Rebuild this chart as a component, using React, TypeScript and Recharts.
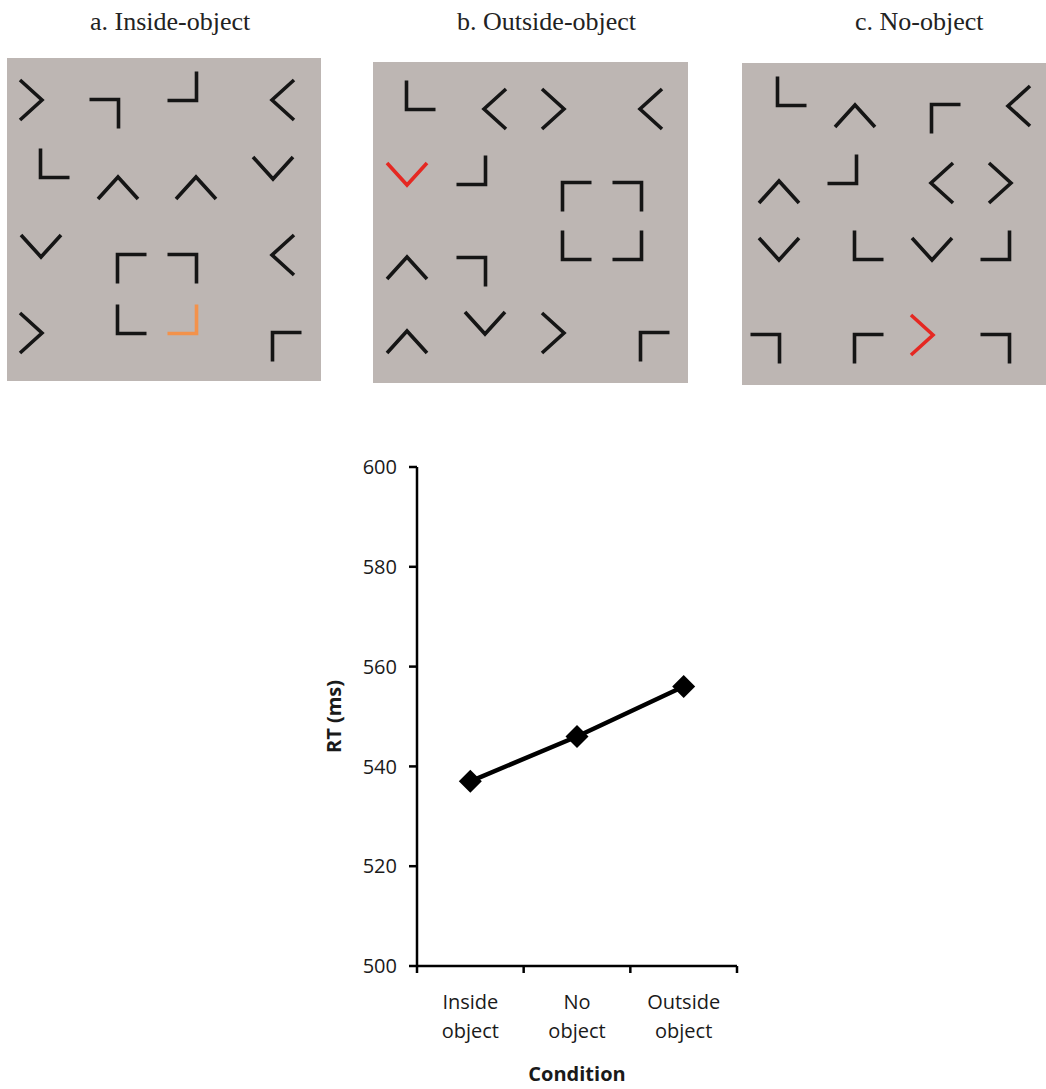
import React from 'react';
import { ScatterChart, Scatter, XAxis, YAxis, LineChart, Line, Label } from 'recharts';

type Glyph = { x: number; y: number; g: string; hl?: string };

// Stimulus panels: glyph centre (panel-local units), glyph type, highlighted target
const panelAGlyphs: Glyph[] = [
  { x: 24, y: 42, g: 'gt' }, { x: 97, y: 56, g: 'TR' }, { x: 175, y: 28, g: 'BR' }, { x: 276, y: 42, g: 'lt' },
  { x: 48, y: 105, g: 'BL' }, { x: 111, y: 130, g: 'up' }, { x: 189, y: 130, g: 'up' }, { x: 266, y: 110, g: 'dn' },
  { x: 34, y: 188, g: 'dn' }, { x: 125, y: 211, g: 'TL' }, { x: 175, y: 211, g: 'TR' }, { x: 276, y: 197, g: 'lt' },
  { x: 24, y: 275, g: 'gt' }, { x: 125, y: 261, g: 'BL' }, { x: 175, y: 261, g: 'BR', hl: 'orange' }, { x: 280, y: 289, g: 'TL' },
];
const panelBGlyphs: Glyph[] = [
  { x: 48, y: 33, g: 'BL' }, { x: 122, y: 47, g: 'lt' }, { x: 180, y: 47, g: 'gt' }, { x: 278, y: 47, g: 'lt' },
  { x: 34, y: 112, g: 'dn', hl: 'red' }, { x: 98, y: 108, g: 'BR' }, { x: 204, y: 135, g: 'TL' }, { x: 254, y: 135, g: 'TR' },
  { x: 204, y: 183, g: 'BL' }, { x: 254, y: 183, g: 'BR' }, { x: 34, y: 206, g: 'up' }, { x: 98, y: 210, g: 'TR' },
  { x: 34, y: 280, g: 'up' }, { x: 112, y: 261, g: 'dn' }, { x: 180, y: 271, g: 'gt' }, { x: 282, y: 285, g: 'TL' },
];
const panelCGlyphs: Glyph[] = [
  { x: 50, y: 28, g: 'BL' }, { x: 113, y: 53, g: 'up' }, { x: 204, y: 56, g: 'TL' }, { x: 277, y: 43, g: 'lt' },
  { x: 37, y: 129, g: 'up' }, { x: 100, y: 106, g: 'BR' }, { x: 200, y: 120, g: 'lt' }, { x: 258, y: 120, g: 'gt' },
  { x: 37, y: 186, g: 'dn' }, { x: 127, y: 182, g: 'BL' }, { x: 190, y: 186, g: 'dn' }, { x: 253, y: 182, g: 'BR' },
  { x: 23, y: 286, g: 'TR' }, { x: 127, y: 286, g: 'TL' }, { x: 180, y: 272, g: 'gt', hl: 'red' }, { x: 253, y: 286, g: 'TR' },
];
const panelTitles = ['a. Inside-object', 'b. Outside-object', 'c. No-object'];

// Line chart data
const conditions = ['Inside object', 'No object', 'Outside object'];
const rtValues = [537, 546, 556];
const yTicks = [500, 520, 540, 560, 580, 600];
const yDomain = [500, 600];
const xAxisTitle = 'Condition';
const yAxisTitle = 'RT (ms)';

const lineData = conditions.map((c, i) => ({ cond: c, rt: rtValues[i] }));

const GREY = '#bdb6b3';
const INK = '#151515';
const HL: Record<string, string> = { orange: '#f3924b', red: '#e52822' };

const GlyphShape = (props: any) => {
  const { cx, cy, payload } = props;
  if (cx == null || cy == null) return null;
  const h = 14.5, a = 20, d = 11;
  let pts: number[][] = [];
  switch (payload.g) {
    case 'gt': pts = [[cx - d, cy - a], [cx + d, cy], [cx - d, cy + a]]; break;
    case 'lt': pts = [[cx + d, cy - a], [cx - d, cy], [cx + d, cy + a]]; break;
    case 'up': pts = [[cx - a, cy + d], [cx, cy - d], [cx + a, cy + d]]; break;
    case 'dn': pts = [[cx - a, cy - d], [cx, cy + d], [cx + a, cy - d]]; break;
    case 'BL': pts = [[cx - h, cy - h], [cx - h, cy + h], [cx + h, cy + h]]; break;
    case 'TR': pts = [[cx - h, cy - h], [cx + h, cy - h], [cx + h, cy + h]]; break;
    case 'BR': pts = [[cx + h, cy - h], [cx + h, cy + h], [cx - h, cy + h]]; break;
    case 'TL': pts = [[cx + h, cy - h], [cx - h, cy - h], [cx - h, cy + h]]; break;
  }
  return (
    <polyline
      points={pts.map((p) => p.join(',')).join(' ')}
      fill="none"
      stroke={payload.hl ? HL[payload.hl] : INK}
      strokeWidth={3.6}
      strokeLinejoin="miter"
      strokeLinecap="butt"
    />
  );
};

const Panel = ({ left, top, w, h, glyphs }: { left: number; top: number; w: number; h: number; glyphs: Glyph[] }) => (
  <div style={{ position: 'absolute', left, top, width: w, height: h, background: GREY }}>
    <ScatterChart width={w} height={h} margin={{ top: 0, right: 0, bottom: 0, left: 0 }}>
      <XAxis type="number" dataKey="x" domain={[0, w]} allowDataOverflow hide height={0} />
      <YAxis type="number" dataKey="y" domain={[0, h]} allowDataOverflow reversed hide width={0} />
      <Scatter data={glyphs} shape={GlyphShape} isAnimationActive={false} />
    </ScatterChart>
  </div>
);

// line chart layout
const LC_LEFT = 300, LC_TOP = 440, LC_W = 460, LC_H = 649;
const M = { top: 27, right: 23, bottom: 0, left: 20 };
const Y_W = 97;
const PLOT_W = LC_W - M.left - M.right - Y_W;
const FONT = "'Open Sans', sans-serif";

const CondTick = (props: any) => {
  const { x, y, payload, index } = props;
  const half = PLOT_W / conditions.length / 2;
  const words = String(payload.value).split(' ');
  return (
    <g>
      {index === 0 && <line x1={x - half} x2={x - half} y1={y} y2={y + 7} stroke="#000" strokeWidth={2.5} />}
      <line x1={x + half} x2={x + half} y1={y} y2={y + 7} stroke="#000" strokeWidth={2.5} />
      <text x={x} y={y + 43} textAnchor="middle" fontSize={20} fontFamily={FONT} fill="#1a1a1a">
        <tspan x={x} dy={0}>{words[0]}</tspan>
        <tspan x={x} dy={29}>{words[1]}</tspan>
      </text>
    </g>
  );
};

const Diamond = (props: any) => {
  const { cx, cy, index } = props;
  const r = 11.5;
  return <path key={`d${index}`} d={`M${cx},${cy - r}L${cx + r},${cy}L${cx},${cy + r}L${cx - r},${cy}Z`} fill="#000" />;
};

export default function App() {
  return (
    <div style={{ position: 'absolute', left: 0, top: 0, width: 1046, height: 1089, background: '#fff', overflow: 'hidden' }}>
      <svg style={{ position: 'absolute', left: 0, top: 0 }} width={1046} height={50}>
        <text x={90} y={30} fontSize={26} fontFamily="'Liberation Serif', serif" fill="#222">{panelTitles[0]}</text>
        <text x={457} y={30} fontSize={26} fontFamily="'Liberation Serif', serif" fill="#222">{panelTitles[1]}</text>
        <text x={855} y={30} fontSize={26} fontFamily="'Liberation Serif', serif" fill="#222">{panelTitles[2]}</text>
      </svg>
      <Panel left={7} top={58} w={314} h={323} glyphs={panelAGlyphs} />
      <Panel left={373} top={62} w={315} h={321} glyphs={panelBGlyphs} />
      <Panel left={742} top={63} w={304} h={322} glyphs={panelCGlyphs} />
      <div style={{ position: 'absolute', left: LC_LEFT, top: LC_TOP }}>
        <LineChart width={LC_W} height={LC_H} data={lineData} margin={M}>
          <XAxis
            dataKey="cond"
            scale="band"
            interval={0}
            axisLine={{ stroke: '#000', strokeWidth: 2.5 }}
            tickLine={false}
            tickSize={0}
            tickMargin={0}
            height={123}
            tick={<CondTick />}
          >
            <Label value={xAxisTitle} position="insideBottom" offset={8} fontSize={20} fontWeight="bold" fontFamily={FONT} fill="#1a1a1a" />
          </XAxis>
          <YAxis
            domain={yDomain}
            ticks={yTicks}
            tickCount={6}
            width={Y_W}
            tickSize={8}
            tickMargin={12}
            axisLine={{ stroke: '#000', strokeWidth: 2.5 }}
            tickLine={{ stroke: '#000', strokeWidth: 2.5 }}
            tick={{ fill: '#1a1a1a', fontSize: 20, fontFamily: FONT }}
          >
            <Label
              content={(p: any) => {
                const vb = p.viewBox || {};
                const cx = (vb.x ?? 320) + 13;
                const cy = (vb.y ?? 27) + (vb.height ?? 499) / 2;
                return (
                  <text x={cx} y={cy} transform={`rotate(-90, ${cx}, ${cy})`} textAnchor="middle" dominantBaseline="central" fontSize={20} fontWeight="bold" fontFamily={FONT} fill="#1a1a1a">
                    {yAxisTitle}
                  </text>
                );
              }}
            />
          </YAxis>
          <Line dataKey="rt" stroke="#000" strokeWidth={4.5} dot={Diamond} activeDot={false} isAnimationActive={false} />
        </LineChart>
      </div>
    </div>
  );
}
